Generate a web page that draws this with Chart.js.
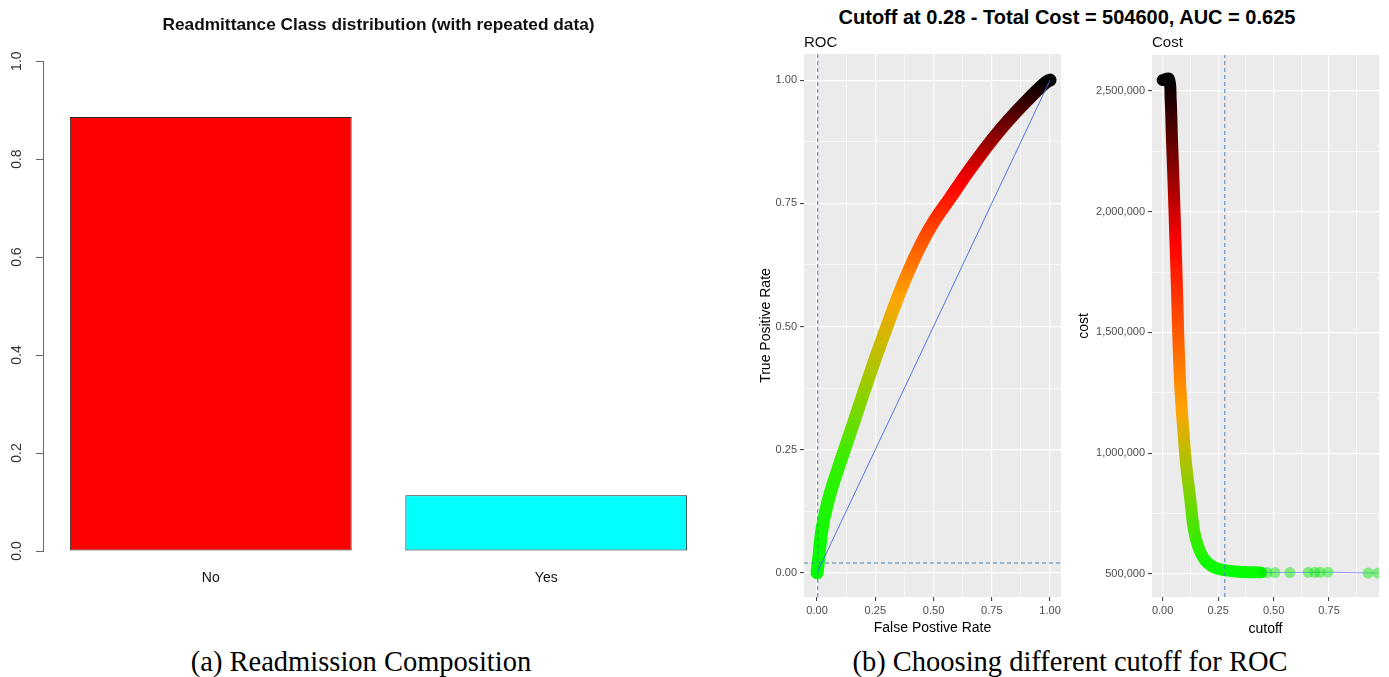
<!DOCTYPE html>
<html>
<head>
<meta charset="utf-8">
<title>Readmission composition and ROC cutoff</title>
<script src="https://cdn.jsdelivr.net/npm/chart.js@4.4.1/dist/chart.umd.min.js"></script>
<style>
  body {
    margin: 0;
    width: 1389px;
    height: 677px;
    overflow: hidden;
    position: relative;
    background: #fff;
    font-family: "Liberation Sans", Arial, sans-serif;
  }
  .panel { position: absolute; }
  .caption {
    position: absolute;
    top: 648px;
    transform: translateX(-50%);
    font-family: "Liberation Serif", "Times New Roman", serif;
    font-size: 28.5px;
    line-height: 28.5px;
    white-space: nowrap;
    color: #000;
  }
  #grid-title {
    position: absolute;
    left: 1067px;
    top: 7px;
    transform: translateX(-50%);
    font-size: 20px;
    line-height: 20px;
    font-weight: bold;
    white-space: nowrap;
    color: #000;
  }
</style>
</head>
<body>

<canvas id="barChart" class="panel" width="730" height="610" style="left:0;top:0"></canvas>
<div id="grid-title">Cutoff at 0.28 - Total Cost = 504600, AUC = 0.625</div>
<canvas id="rocChart" class="panel" width="320" height="610" style="left:750px;top:30px"></canvas>
<canvas id="costChart" class="panel" width="319" height="610" style="left:1070px;top:30px"></canvas>

<div class="caption" style="left:361px">(a) Readmission Composition</div>
<div class="caption" style="left:1070px">(b) Choosing different cutoff for ROC</div>

<script>
/* ---------- DATA ---------- */
const BAR_CATEGORIES = ["No", "Yes"];
const BAR_SHARES = [0.886, 0.114];
const BAR_COLORS = ["#FF0000", "#00FFFF"];

// ROC curve (false positive rate vs true positive rate)
const ROC_FPR = [0.000, 0.005, 0.020, 0.050, 0.100, 0.150, 0.200, 0.250, 0.300, 0.350,
                 0.400, 0.450, 0.500, 0.570, 0.650, 0.770, 0.900, 0.990, 1.000];
const ROC_TPR = [0.000, 0.020, 0.085, 0.150, 0.225, 0.295, 0.366, 0.435, 0.500, 0.563,
                 0.620, 0.670, 0.712, 0.760, 0.815, 0.890, 0.958, 0.998, 1.000];
const DIAG_X = [0, 1];
const DIAG_Y = [0, 1];
const CUT_FPR = 0.003;
const CUT_TPR = 0.02;

// cost by cutoff
const COST_CUTOFF = [0.000, 0.028, 0.036, 0.042, 0.050, 0.057, 0.064, 0.070, 0.075,
                     0.082, 0.093, 0.105, 0.123, 0.141, 0.160, 0.190, 0.240, 0.330, 0.440];
const COST_VALUE = [2545000, 2550000, 2470000, 2300000, 2100000, 1900000, 1700000, 1500000, 1370000,
                    1235000, 1097000, 960000, 820000, 682000, 613000, 558000, 524000, 510000, 506000];
const TAIL_CUTOFF = [0.450, 0.470, 0.506, 0.573, 0.656, 0.686, 0.709, 0.745, 0.926, 0.970];
const TAIL_COST = [505000, 505000, 505000, 505000, 506000, 506000, 506000, 507000, 503000, 503000];
const CHOSEN_CUTOFF = 0.28;

// axis limits
const ROC_X_RANGE = [-0.056, 1.047];
const ROC_Y_RANGE = [-0.049, 1.053];
const COST_X_RANGE = [-0.048, 0.975];
const COST_Y_RANGE = [404000, 2649000];

/* ---------- STYLE ---------- */
const FONT = '"Liberation Sans", Arial, sans-serif';
Chart.defaults.font.family = FONT;
Chart.defaults.animation = false;

const ROC_STOPS = [[0, "#00FF00"], [0.22, "#33F000"], [0.40, "#A6C800"],
                   [0.56, "#FFA500"], [0.79, "#FF0000"], [1.0, "#000000"]];
const COST_STOPS = [[500000, "#00FF00"], [1180000, "#FFA500"],
                    [1870000, "#FF0000"], [2550000, "#000000"]];
const DASH_COLOR = "#4F81B5";

/* ---------- HELPERS ---------- */
const toPoints = (xs, ys) => xs.map((x, i) => ({ x, y: ys[i] }));

function verticalGradient(chart, stops) {
  const { ctx, chartArea, scales } = chart;
  if (!chartArea) return stops[0][1];
  const first = stops[0][0];
  const last = stops[stops.length - 1][0];
  const g = ctx.createLinearGradient(0, scales.y.getPixelForValue(first),
                                     0, scales.y.getPixelForValue(last));
  stops.forEach(([v, c]) => g.addColorStop((v - first) / (last - first), c));
  return g;
}

// grey ggplot panel behind the grid
const panelBg = {
  id: "panelBg",
  beforeDraw(chart, args, opts) {
    if (!opts.color) return;
    const { ctx, chartArea: a } = chart;
    ctx.save();
    ctx.fillStyle = opts.color;
    ctx.fillRect(a.left, a.top, a.width, a.height);
    ctx.restore();
  }
};

// base-R style rotated y tick labels
const rotatedYLabels = {
  id: "rotatedYLabels",
  afterDraw(chart, args, opts) {
    if (!opts.x) return;
    const { ctx, scales } = chart;
    ctx.save();
    ctx.font = "14px " + FONT;
    ctx.fillStyle = "#333";
    ctx.textAlign = "center";
    ctx.textBaseline = "middle";
    scales.y.ticks.forEach(t => {
      ctx.save();
      ctx.translate(opts.x, scales.y.getPixelForValue(t.value));
      ctx.rotate(-Math.PI / 2);
      ctx.fillText(t.value.toFixed(1), 0, 0);
      ctx.restore();
    });
    ctx.restore();
  }
};

// ggplot-like axis: major + minor white grid, labels only on majors
function ggScale(o) {
  const step = o.major / 2;
  const isMajor = v => Math.abs(v / o.major - Math.round(v / o.major)) < 1e-6;
  return {
    type: "linear",
    min: o.range[0],
    max: o.range[1],
    afterBuildTicks: s => {
      const ticks = [];
      for (let k = Math.ceil(o.range[0] / step); k * step <= o.range[1]; k++) {
        ticks.push({ value: Math.round(k * step * 1e6) / 1e6 });
      }
      s.ticks = ticks;
    },
    afterFit: s => {
      if (o.width) s.width = o.width;
      if (o.height) s.height = o.height;
    },
    border: { display: false },
    grid: {
      color: "#FFFFFF",
      lineWidth: c => isMajor(c.tick.value) ? 1.2 : 0.6,
      tickColor: c => isMajor(c.tick.value) ? "#333333" : "rgba(0,0,0,0)",
      tickLength: 4,
      tickWidth: 1
    },
    ticks: {
      autoSkip: false,
      maxRotation: 0,
      padding: 3,
      color: "#4D4D4D",
      font: { size: 11 },
      callback: v => isMajor(v) ? o.fmt(v) : ""
    },
    title: {
      display: true,
      text: o.title,
      color: "#000",
      font: { size: 14 },
      padding: { top: o.titlePad, bottom: o.titlePad }
    }
  };
}

function lineSet(points, style) {
  return Object.assign({
    data: points,
    showLine: true,
    pointRadius: 0,
    fill: false
  }, style);
}

/* ---------- BAR CHART ---------- */
new Chart(document.getElementById("barChart"), {
  type: "bar",
  data: {
    labels: BAR_CATEGORIES,
    datasets: [{
      data: BAR_SHARES,
      backgroundColor: BAR_COLORS,
      borderColor: "#222",
      borderWidth: 1,
      borderSkipped: false,
      barPercentage: 0.84,
      categoryPercentage: 1
    }]
  },
  options: {
    responsive: false,
    events: [],
    layout: { padding: { left: 0, right: 16, top: 0, bottom: 0 } },
    plugins: {
      legend: { display: false },
      tooltip: { enabled: false },
      title: {
        display: true,
        fullSize: false,
        text: "Readmittance Class distribution (with repeated data)",
        color: "#111",
        font: { size: 17.3, weight: "bold" },
        padding: { top: 14.6, bottom: 25.8 }
      },
      rotatedYLabels: { x: 17 }
    },
    scales: {
      x: {
        afterFit: s => { s.height = 59; },
        grid: { display: false, drawTicks: false },
        border: { display: false },
        ticks: { color: "#111", font: { size: 14 }, padding: 19 }
      },
      y: {
        min: 0,
        max: 1,
        afterFit: s => { s.width = 43; },
        border: { display: true, color: "#666", width: 1 },
        grid: { drawOnChartArea: false, drawTicks: true, tickLength: 7, tickColor: "#666" },
        ticks: { stepSize: 0.2, display: false }
      }
    }
  },
  plugins: [rotatedYLabels]
});

/* ---------- ROC CHART ---------- */
new Chart(document.getElementById("rocChart"), {
  type: "scatter",
  data: {
    datasets: [
      lineSet([{ x: CUT_FPR, y: ROC_Y_RANGE[0] }, { x: CUT_FPR, y: ROC_Y_RANGE[1] }],
              { borderColor: DASH_COLOR, borderWidth: 1, borderDash: [4, 3] }),
      lineSet([{ x: ROC_X_RANGE[0], y: CUT_TPR }, { x: ROC_X_RANGE[1], y: CUT_TPR }],
              { borderColor: DASH_COLOR, borderWidth: 1, borderDash: [4, 3] }),
      lineSet(toPoints(DIAG_X, DIAG_Y), { borderColor: "#4169E1", borderWidth: 0.9 }),
      lineSet(toPoints(ROC_FPR, ROC_TPR), {
        borderColor: c => verticalGradient(c.chart, ROC_STOPS),
        borderWidth: 13,
        borderCapStyle: "round",
        borderJoinStyle: "round",
        cubicInterpolationMode: "monotone"
      })
    ]
  },
  options: {
    responsive: false,
    events: [],
    layout: { padding: { left: 0, right: 9, top: 0, bottom: 0 } },
    plugins: {
      legend: { display: false },
      tooltip: { enabled: false },
      title: {
        display: true,
        fullSize: false,
        align: "start",
        text: "ROC",
        color: "#111",
        font: { size: 15, weight: "normal" },
        padding: { top: 4, bottom: 2 }
      },
      panelBg: { color: "#EBEBEB" }
    },
    scales: {
      x: ggScale({ range: ROC_X_RANGE, major: 0.25, fmt: v => v.toFixed(2),
                   title: "False Postive Rate", titlePad: 3, height: 43 }),
      y: ggScale({ range: ROC_Y_RANGE, major: 0.25, fmt: v => v.toFixed(2),
                   title: "True Positive Rate", titlePad: 8, width: 54 })
    }
  },
  plugins: [panelBg]
});

/* ---------- COST CHART ---------- */
new Chart(document.getElementById("costChart"), {
  type: "scatter",
  data: {
    datasets: [
      lineSet([{ x: CHOSEN_CUTOFF, y: COST_Y_RANGE[0] }, { x: CHOSEN_CUTOFF, y: COST_Y_RANGE[1] }],
              { borderColor: DASH_COLOR, borderWidth: 1, borderDash: [4, 3] }),
      lineSet(toPoints(TAIL_CUTOFF, TAIL_COST), {
        borderColor: "rgba(110,110,255,0.7)",
        borderWidth: 1,
        pointRadius: 5.5,
        pointBorderWidth: 0,
        pointBackgroundColor: "rgba(0,235,0,0.45)"
      }),
      lineSet(toPoints(COST_CUTOFF, COST_VALUE), {
        borderColor: c => verticalGradient(c.chart, COST_STOPS),
        borderWidth: 12,
        borderCapStyle: "round",
        borderJoinStyle: "round",
        tension: 0.35
      })
    ]
  },
  options: {
    responsive: false,
    events: [],
    layout: { padding: { left: 0, right: 10, top: 0, bottom: 0 } },
    plugins: {
      legend: { display: false },
      tooltip: { enabled: false },
      title: {
        display: true,
        fullSize: false,
        align: "start",
        text: "Cost",
        color: "#111",
        font: { size: 15, weight: "normal" },
        padding: { top: 4, bottom: 3 }
      },
      panelBg: { color: "#EBEBEB" }
    },
    scales: {
      x: ggScale({ range: COST_X_RANGE, major: 0.25, fmt: v => v.toFixed(2),
                   title: "cutoff", titlePad: 2, height: 43 }),
      y: ggScale({ range: COST_Y_RANGE, major: 500000, fmt: v => v.toLocaleString("en-US"),
                   title: "cost", titlePad: 6, width: 82 })
    }
  },
  plugins: [panelBg]
});
</script>
</body>
</html>
